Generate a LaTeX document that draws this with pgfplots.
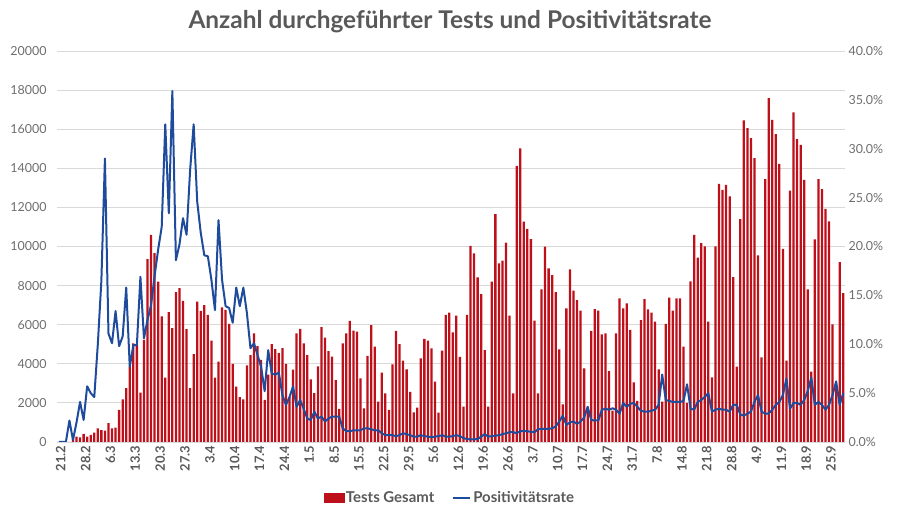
\documentclass[border=0pt]{standalone}
\usepackage{pgfplots}
\pgfplotsset{compat=1.18}
\usepackage{pgfplotstable}
\usepackage{fontspec}
\setmainfont{Lato}
\definecolor{barred}{RGB}{190,16,26}
\definecolor{lineblue}{RGB}{30,75,155}
\definecolor{txtgray}{RGB}{89,89,89}
\definecolor{lblgray}{RGB}{110,110,110}
\definecolor{gridgray}{RGB}{217,217,217}

% d = Tage seit 21.2., tests = Tests gesamt, rate = Positivitaetsrate in %
\pgfplotstableread{
d tests rate
0 0 0
1 0 0
2 0 0
3 0 2.2
4 150 0.2
5 270 2.0
6 240 4.1
7 410 2.25
8 270 5.7
9 360 5.0
10 480 4.6
11 700 10
12 610 16.5
13 580 29
14 960 11.1
15 700 10.1
16 730 13.4
17 1640 9.8
18 2180 10.8
19 2750 15.8
20 3860 7.7
21 5050 9.9
22 4970 9.9
23 2530 16.9
24 5220 10.6
25 9350 12.5
26 10600 14
27 9660 17
28 8200 19.7
29 6420 22
30 3290 32.5
31 6640 23.4
32 5820 35.9
33 7660 18.6
34 7870 20.2
35 7220 22.9
36 5770 21.2
37 2750 27.8
38 4490 32.5
39 7180 24.6
40 6710 21.4
41 7000 19.1
42 6500 19.0
43 5190 16.6
44 3290 13.5
45 4110 22.7
46 6880 16.6
47 6760 13.9
48 6040 13.7
49 3990 12.2
50 2830 15.8
51 2290 13.9
52 2180 15.8
53 3920 13.2
54 4450 9.6
55 5560 10.1
56 4900 8.9
57 4200 7.7
58 2150 5.2
59 3450 9.4
60 5000 7.0
61 4750 6.9
62 4550 7.1
63 4800 4.8
64 4000 3.8
65 2300 4.6
66 3700 5.7
67 5560 3.6
68 5780 4.3
69 5050 3.4
70 4450 2.4
71 3200 2.25
72 2500 3.1
73 3870 2.4
74 5870 2.6
75 5340 2.1
76 4650 2.4
77 4370 2.6
78 3170 2.6
79 1700 2.6
80 5050 1.4
81 5560 1.1
82 6200 1.1
83 5700 1.2
84 5640 1.2
85 3260 1.2
86 1720 1.4
87 4400 1.4
88 5980 1.3
89 4880 1.2
90 2060 1.2
91 3550 0.9
92 2490 0.7
93 1640 0.7
94 3970 0.7
95 5680 0.6
96 5000 0.7
97 4160 0.9
98 3720 0.8
99 2570 0.7
100 1520 0.55
101 1760 0.55
102 4280 0.7
103 5270 0.6
104 5180 0.55
105 4790 0.5
106 3090 0.55
107 1500 0.6
108 4670 0.7
109 6500 0.55
110 6620 0.55
111 5610 0.6
112 6460 0.7
113 4360 0.6
114 1810 0.4
115 6500 0.3
116 10030 0.27
117 9650 0.27
118 8420 0.3
119 7570 0.55
120 4700 0.8
121 1810 0.55
122 8200 0.6
123 11660 0.65
124 9140 0.7
125 9280 0.8
126 10200 0.9
127 6460 1.0
128 2490 1.0
129 14120 0.9
130 15020 1.1
131 11270 1.1
132 10900 1.1
133 10380 1.05
134 6210 1.0
135 2490 1.3
136 7810 1.35
137 9990 1.35
138 8880 1.35
139 8540 1.4
140 7660 1.6
141 4740 2.1
142 1930 2.7
143 6840 1.75
144 8830 2.0
145 7740 2.1
146 7260 1.85
147 6720 2.1
148 3770 2.5
149 1700 3.6
150 5690 2.25
151 6800 2.2
152 6720 2.2
153 5510 3.3
154 5560 3.4
155 3630 3.3
156 1600 3.45
157 5560 3.3
158 7350 2.9
159 6840 4.0
160 7090 3.6
161 5730 3.9
162 3050 4.0
163 2100 3.6
164 6240 3.2
165 7310 3.1
166 6790 3.1
167 6620 3.2
168 6160 3.3
169 3720 3.8
170 2060 6.9
171 6040 4.3
172 7390 4.2
173 6720 4.1
174 7350 4.1
175 7350 4.1
176 4880 4.2
177 2000 5.9
178 8210 3.4
179 10590 3.3
180 9430 4.1
181 10170 4.3
182 10000 4.6
183 6160 5.0
184 3310 3.1
185 10000 3.3
186 13200 3.4
187 12900 3.3
188 13150 3.3
189 12560 3.1
190 8430 3.8
191 3850 3.8
192 11400 2.8
193 16450 2.7
194 16050 2.9
195 15540 3.1
196 14520 4.1
197 9540 4.8
198 4330 3.1
199 13440 2.9
200 17590 2.9
201 16480 3.3
202 15750 3.8
203 14230 4.1
204 9880 4.8
205 4160 6.5
206 12860 3.4
207 16860 4.0
208 15490 4.0
209 15200 3.8
210 13410 4.3
211 7810 5.2
212 3600 6.6
213 10370 3.8
214 13440 4.1
215 12930 3.8
216 11920 3.3
217 11280 3.8
218 6020 4.8
219 2800 6.2
220 9200 3.8
221 7610 5.0
}\data

\begin{document}
\begin{tikzpicture}
\path[use as bounding box] (0,0) rectangle (900bp,516bp);
\node[font=\fontsize{24.5}{28}\selectfont\bfseries, text=txtgray] at (450bp,494bp)
  {Anzahl durchgeführter Tests und Positivitätsrate};

\begin{axis}[
    at={(57bp,74bp)}, anchor=south west,
    width=788bp, height=391bp, scale only axis,
    xmin=-0.5, xmax=221.5,
    ymin=0, ymax=20000,
    ybar, bar width=0.64,
    ytick={0,2000,...,20000},
    scaled y ticks=false,
    ymajorgrids,
    grid style={gridgray, line width=0.8bp},
    axis line style={draw=none},
    major tick length=0pt,
    xtick={0,7,...,217},
    xticklabels={21.2,28.2,6.3,13.3,20.3,27.3,3.4,10.4,17.4,24.4,1.5,8.5,15.5,22.5,29.5,5.6,12.6,19.6,26.6,3.7,10.7,17.7,24.7,31.7,7.8,14.8,21.8,28.8,4.9,11.9,18.9,25.9},
    x tick label style={rotate=90, anchor=east, yshift=-2bp,
        font=\fontsize{13}{15}\selectfont\bfseries, text=txtgray},
    y tick label style={xshift=-7bp, font=\fontsize{12.5}{14}\selectfont, text=lblgray},
    /pgf/number format/set thousands separator={},
    /pgf/number format/assume math mode=true,
]
\addplot[fill=barred, draw=none] table[x=d, y=tests] {\data};
\end{axis}

\begin{axis}[
    at={(57bp,74bp)}, anchor=south west,
    width=788bp, height=391bp, scale only axis,
    xmin=-0.5, xmax=221.5,
    ymin=0, ymax=40,
    hide x axis,
    axis y line*=right,
    axis line style={draw=none},
    major tick length=0pt,
    ytick={0,5,...,40},
    yticklabel={\pgfmathprintnumber[fixed,fixed zerofill,precision=1,assume math mode=true]{\tick}\%},
    y tick label style={font=\fontsize{12.5}{14}\selectfont, text=lblgray},
    legend style={at={(0.4985,-0.143)}, anchor=center, draw=none, fill=none,
        font=\fontsize{15}{17}\selectfont\bfseries, text=txtgray,
        /tikz/every even column/.append style={column sep=16bp}},
    legend columns=2,
]
\addlegendimage{legend image code/.code={\fill[barred] (0bp,-4.5bp) rectangle (20bp,4.5bp);}}
\addlegendentry{Tests Gesamt}
\addplot[lineblue, line width=2bp, line join=round] table[x=d, y=rate] {\data};
\addlegendentry{Positivitätsrate}
\end{axis}
\end{tikzpicture}
\end{document}
